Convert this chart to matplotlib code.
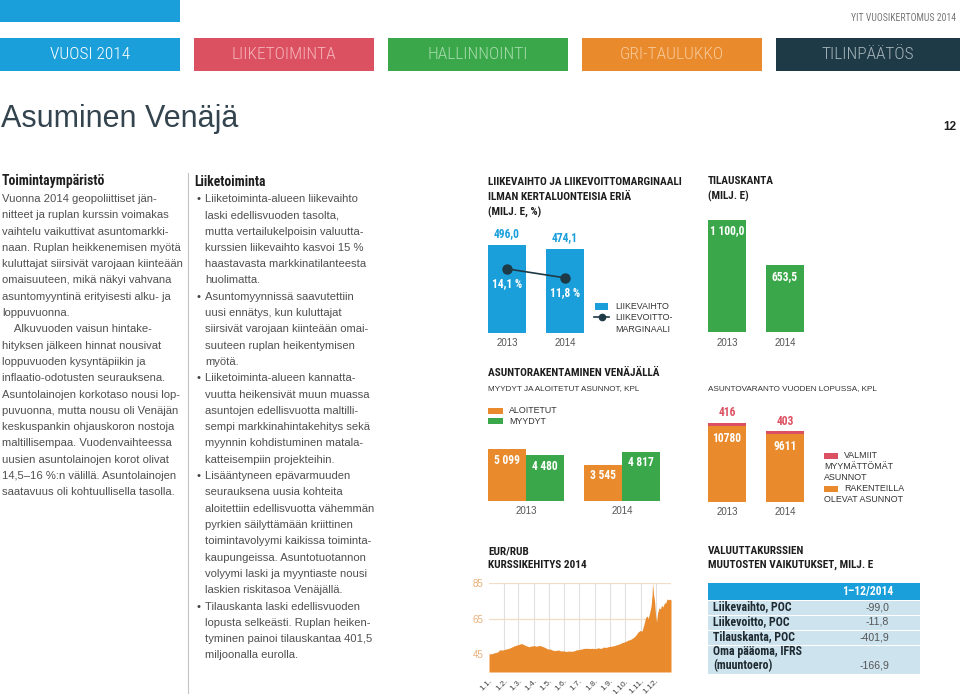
import matplotlib
matplotlib.use("Agg")
import matplotlib.pyplot as plt
from matplotlib.patches import Rectangle
from matplotlib.lines import Line2D
from matplotlib import font_manager as fm

# ---------------- data ----------------
nav_labels = ["VUOSI 2014", "LIIKETOIMINTA", "HALLINNOINTI", "GRI-TAULUKKO", "TILINPÄÄTÖS"]
years = ["2013", "2014"]
revenue = [496.0, 474.1]
revenue_labels = ["496,0", "474,1"]
margin = [14.1, 11.8]
margin_labels = ["14,1 %", "11,8 %"]
backlog = [1100.0, 653.5]
backlog_labels = ["1 100,0", "653,5"]
started = [5099, 3545]
sold = [4480, 4817]
started_labels = ["5 099", "3 545"]
sold_labels = ["4 480", "4 817"]
under_constr = [10780, 9611]
under_constr_labels = ["10780", "9611"]
completed_unsold = [416, 403]
completed_unsold_labels = ["416", "403"]

eurrub_day = [0, 5, 11, 17, 22, 27, 33, 39, 44, 49, 54, 60, 65, 69, 74, 80, 85, 90, 96, 101,
              106, 112, 117, 123, 128, 133, 139, 144, 149, 155, 160, 165, 171, 176, 181, 187,
              192, 198, 203, 208, 214, 219, 224, 230, 235, 240, 246, 251, 256, 262, 267, 273,
              278, 283, 289, 294, 299, 303, 307, 311, 314, 317, 319, 322, 325, 327, 328, 330,
              332, 334, 336, 338, 341, 344, 346, 349, 352, 354, 357, 360, 362, 365]
eurrub_rate = [45.0, 45.2, 45.8, 46.2, 47.5, 47.3, 47.8, 48.2, 48.8, 49.5, 50.0, 50.5, 51.0,
               50.5, 49.8, 49.2, 49.6, 49.8, 49.5, 49.9, 49.5, 48.8, 48.0, 47.8, 47.2, 47.0,
               47.4, 46.8, 46.9, 46.5, 46.8, 46.6, 46.9, 47.5, 47.6, 48.0, 48.3, 48.3, 48.2,
               48.3, 48.1, 48.6, 48.2, 49.0, 48.8, 49.3, 49.5, 49.8, 50.3, 50.8, 51.5, 52.0,
               52.8, 53.2, 54.2, 55.5, 57.5, 58.3, 58.0, 62.0, 65.5, 66.5, 65.0, 68.0, 72.0,
               78.0, 85.0, 78.5, 75.0, 67.0, 63.0, 68.0, 71.0, 70.5, 72.5, 71.5, 74.0, 73.5,
               76.0, 75.5, 76.0, 75.5]
month_days = [0, 31, 59, 90, 120, 151, 181, 212, 243, 273, 304, 334]
month_labels = ["1.1.", "1.2.", "1.3.", "1.4.", "1.5.", "1.6.", "1.7.", "1.8.", "1.9.",
                "1.10.", "1.11.", "1.12."]
rate_ticks = [45, 65, 85]

fx_header = "1–12/2014"
fx_items = ["Liikevaihto, POC", "Liikevoitto, POC", "Tilauskanta, POC", "Oma pääoma, IFRS\n(muuntoero)"]
fx_values = ["-99,0", "-11,8", "-401,9", "-166,9"]

left_title = "Toimintaympäristö"
left_lines = [
    "Vuonna 2014 geopoliittiset jän-",
    "nitteet ja ruplan kurssin voimakas",
    "vaihtelu vaikuttivat asuntomarkki-",
    "naan. Ruplan heikkenemisen myötä",
    "kuluttajat siirsivät varojaan kiinteään",
    "omaisuuteen, mikä näkyi vahvana",
    "asuntomyyntinä erityisesti alku- ja",
    "loppuvuonna.",
    "    Alkuvuoden vaisun hintake-",
    "hityksen jälkeen hinnat nousivat",
    "loppuvuoden kysyntäpiikin ja",
    "inflaatio-odotusten seurauksena.",
    "Asuntolainojen korkotaso nousi lop-",
    "puvuonna, mutta nousu oli Venäjän",
    "keskuspankin ohjauskoron nostoja",
    "maltillisempaa. Vuodenvaihteessa",
    "uusien asuntolainojen korot olivat",
    "14,5–16 %:n välillä. Asuntolainojen",
    "saatavuus oli kohtuullisella tasolla.",
]
mid_title = "Liiketoiminta"
mid_lines = [
    "• Liiketoiminta-alueen liikevaihto",
    "laski edellisvuoden tasolta,",
    "mutta vertailukelpoisin valuutta-",
    "kurssien liikevaihto kasvoi 15 %",
    "haastavasta markkinatilanteesta",
    "huolimatta.",
    "• Asuntomyynnissä saavutettiin",
    "uusi ennätys, kun kuluttajat",
    "siirsivät varojaan kiinteään omai-",
    "suuteen ruplan heikentymisen",
    "myötä.",
    "• Liiketoiminta-alueen kannatta-",
    "vuutta heikensivät muun muassa",
    "asuntojen edellisvuotta maltilli-",
    "sempi markkinahintakehitys sekä",
    "myynnin kohdistuminen matala-",
    "katteisempiin projekteihin.",
    "• Lisääntyneen epävarmuuden",
    "seurauksena uusia kohteita",
    "aloitettiin edellisvuotta vähemmän",
    "pyrkien säilyttämään kriittinen",
    "toimintavolyymi kaikissa toiminta-",
    "kaupungeissa. Asuntotuotannon",
    "volyymi laski ja myyntiaste nousi",
    "laskien riskitasoa Venäjällä.",
    "• Tilauskanta laski edellisvuoden",
    "lopusta selkeästi. Ruplan heiken-",
    "tyminen painoi tilauskantaa 401,5",
    "miljoonalla eurolla.",
]

# ---------------- style ----------------
BLUE = "#1a9fdb"
RED = "#dc5161"
GREEN = "#3aa84a"
ORANGE = "#e98a2c"
DARK = "#1e3a46"
TXT = "#505050"
HEAD = "#1e1e1e"
nav_colors = [BLUE, RED, GREEN, ORANGE, DARK]
nav_text_colors = ["#ffffff", "#f5b5bb", "#a8daad", "#f7c99b", "#a8b6bc"]
SANS = ["Liberation Sans"]

_names = {f.name for f in fm.fontManager.ttflist}
if "Liberation Sans Narrow" in _names:
    NARROW, NF = ["Liberation Sans Narrow"], 1.0
elif "Roboto Condensed" in _names:
    NARROW, NF = ["Roboto Condensed"], 1.0
else:
    NARROW, NF = ["Liberation Sans"], 0.83

W, H = 960, 694
fig = plt.figure(figsize=(9.6, 6.94), dpi=100)
fig.patch.set_facecolor("white")


def fx(x):
    return x / W


def fy(y):
    return 1 - y / H


def txt(x, y, s, size=8, color=TXT, family=SANS, weight="normal", ha="left", va="center", **kw):
    fig.text(fx(x), fy(y), s, fontsize=size, color=color, family=family,
             fontweight=weight, ha=ha, va=va, **kw)


def ntxt(x, y, s, size=8, **kw):
    txt(x, y, s, size=size * NF, family=NARROW, **kw)


def rect(x0, y0, x1, y1, color):
    fig.patches.append(Rectangle((fx(x0), fy(y1)), (x1 - x0) / W, (y1 - y0) / H,
                                 transform=fig.transFigure, facecolor=color,
                                 edgecolor="none", zorder=0))


def add_ax(x0, y0, x1, y1):
    ax = fig.add_axes([fx(x0), fy(y1), (x1 - x0) / W, (y1 - y0) / H])
    ax.patch.set_alpha(0)
    return ax


VAL = dict(fontsize=8.3 * NF, fontweight="bold", family=NARROW, ha="center", va="center",
           textcoords="offset pixels", annotation_clip=False)
YR = dict(fontsize=7, color="#555555", family=SANS, ha="center", va="center",
          textcoords="offset pixels", annotation_clip=False)

# ---------------- header ----------------
rect(0, 0, 180, 22, BLUE)
ntxt(956, 18, "YIT VUOSIKERTOMUS 2014", size=7, color="#777777", ha="right")
nav_x = [(0, 180), (194, 374), (388, 568), (582, 762), (776, 960)]
for (x0, x1), lab, c, tc in zip(nav_x, nav_labels, nav_colors, nav_text_colors):
    rect(x0, 38, x1, 71, c)
    ntxt((x0 + x1) / 2, 54.5, lab, size=12.5, color=tc, ha="center", weight="light")
txt(1, 119, "Asuminen Venäjä", size=22, color="#34444f")
txt(956, 127, "12", size=8.5, color="#222222", weight="bold", ha="right")

# ---------------- text columns ----------------
LS = 16.3
ntxt(2, 181, left_title, size=9.8, color=HEAD, weight="bold")
for i, line in enumerate(left_lines):
    txt(2, 199 + i * LS, line, size=8.1)

fig.add_artist(Line2D([fx(187.5), fx(187.5)], [fy(173), fy(694)], color="#c4c4c4", lw=0.8))

ntxt(194, 182, mid_title, size=9.8, color=HEAD, weight="bold")
for i, line in enumerate(mid_lines):
    y = 199 + i * LS
    if line.startswith("• "):
        txt(196.5, y, "•", size=8, color="#444444")
        line = line[2:]
    txt(205, y, line, size=8.1)

# ---------------- chart 1: revenue & margin ----------------
for j, s in enumerate(["LIIKEVAIHTO JA LIIKEVOITTOMARGINAALI", "ILMAN KERTALUONTEISIA ERIÄ", "(MILJ. E, %)"]):
    ntxt(488, 182 + j * 15, s, size=8.1, color=HEAD, weight="bold")

ax1 = add_ax(488, 200, 584, 333)
w1 = 38 / 58
xs = list(range(len(years)))
ax1.bar(xs, revenue, width=w1, color=BLUE)
ax1.set_xlim(-w1 / 2, 1 + w1 / 2)
ax1.set_ylim(0, revenue[0] * 133 / 88)
ax1.axis("off")
for i, (v, lab) in enumerate(zip(revenue, revenue_labels)):
    ax1.annotate(lab, (i, v), xytext=(0, 11), color=BLUE, **VAL)
    ax1.annotate(years[i], (i, 0), xytext=(0, -10), **YR)
ax1b = ax1.twinx()
ax1b.plot(xs, margin, color=DARK, lw=1.2, marker="o", ms=6.5)
ax1b.set_ylim(-2.3, 31.7)
ax1b.axis("off")
for i, (v, lab) in enumerate(zip(margin, margin_labels)):
    ax1b.annotate(lab, (i, v), xytext=(0, -15), color="white", **VAL)

rect(595, 303, 608, 310, BLUE)
txt(615, 306.5, "LIIKEVAIHTO", size=6.4, color="#333333")
fig.add_artist(Line2D([fx(594), fx(609)], [fy(317), fy(317)], color=DARK, lw=1.2))
fig.add_artist(Line2D([fx(601.5)], [fy(317)], color=DARK, marker="o", ms=4.5))
txt(615, 317, "LIIKEVOITTO-", size=6.4, color="#333333")
txt(615, 329.5, "MARGINAALI", size=6.4, color="#333333")

# ---------------- chart 2: order backlog ----------------
ntxt(708, 181.5, "TILAUSKANTA", size=8.1, color=HEAD, weight="bold")
ntxt(708, 196.5, "(MILJ. E)", size=8.1, color=HEAD, weight="bold")
ax2 = add_ax(708, 200, 804, 332)
ax2.bar(xs, backlog, width=w1, color=GREEN)
ax2.set_xlim(-w1 / 2, 1 + w1 / 2)
ax2.set_ylim(0, backlog[0] * 132 / 112)
ax2.axis("off")
for i, (v, lab) in enumerate(zip(backlog, backlog_labels)):
    ax2.annotate(lab, (i, v), xytext=(0, -11), color="white", **VAL)
    ax2.annotate(years[i], (i, 0), xytext=(0, -11), **YR)

# ---------------- chart 3: housing construction ----------------
ntxt(488, 373, "ASUNTORAKENTAMINEN VENÄJÄLLÄ", size=8.1, color=HEAD, weight="bold")
txt(488, 389, "MYYDYT JA ALOITETUT ASUNNOT, KPL", size=5.9, color="#333333")
rect(488, 407.5, 502.5, 413.5, ORANGE)
txt(509, 410.5, "ALOITETUT", size=6.4, color="#333333")
rect(488, 418, 502.5, 424, GREEN)
txt(509, 421.5, "MYYDYT", size=6.4, color="#333333")

ax3 = add_ax(488, 430, 660, 501)
w3 = 38 / 96
ax3.bar([i - w3 / 2 for i in xs], started, width=w3, color=ORANGE)
ax3.bar([i + w3 / 2 for i in xs], sold, width=w3, color=GREEN)
ax3.set_xlim(-w3, 1 + w3)
ax3.set_ylim(0, started[0] * 71 / 52)
ax3.axis("off")
for i in xs:
    ax3.annotate(started_labels[i], (i - w3 / 2, started[i]), xytext=(0, -11), color="white", **VAL)
    ax3.annotate(sold_labels[i], (i + w3 / 2, sold[i]), xytext=(0, -11), color="white", **VAL)
    ax3.annotate(years[i], (i, 0), xytext=(0, -10.5), **YR)

# ---------------- chart 4: housing stock ----------------
txt(708, 389, "ASUNTOVARANTO VUODEN LOPUSSA, KPL", size=5.9, color="#333333")
ax4 = add_ax(708, 400, 804, 502)
ax4.bar(xs, under_constr, width=w1, color=ORANGE)
ax4.bar(xs, completed_unsold, width=w1, bottom=under_constr, color=RED)
ax4.set_xlim(-w1 / 2, 1 + w1 / 2)
ax4.set_ylim(0, (under_constr[0] + completed_unsold[0]) * 102 / 79.3)
ax4.axis("off")
for i in xs:
    tot = under_constr[i] + completed_unsold[i]
    ax4.annotate(completed_unsold_labels[i], (i, tot), xytext=(0, 10), color=RED, **VAL)
    ax4.annotate(under_constr_labels[i], (i, under_constr[i]), xytext=(0, -13), color="white", **VAL)
    ax4.annotate(years[i], (i, 0), xytext=(0, -10), **YR)

rect(824, 453, 838, 459, RED)
txt(844, 455.5, "VALMIIT", size=6.4, color="#333333")
txt(824, 466.5, "MYYMÄTTÖMÄT", size=6.4, color="#333333")
txt(824, 477.5, "ASUNNOT", size=6.4, color="#333333")
rect(824, 486, 838, 492, ORANGE)
txt(844, 488.5, "RAKENTEILLA", size=6.4, color="#333333")
txt(824, 499.5, "OLEVAT ASUNNOT", size=6.4, color="#333333")

# ---------------- chart 5: EUR/RUB ----------------
ntxt(488, 551.5, "EUR/RUB", size=8.1, color=HEAD, weight="bold")
ntxt(488, 565, "KURSSIKEHITYS 2014", size=8.1, color=HEAD, weight="bold")
ax5 = add_ax(489, 583, 671, 672)
ax5.fill_between(eurrub_day, eurrub_rate, 35, color=ORANGE, lw=0, zorder=2)
ax5.set_xlim(0, 365)
ax5.set_ylim(35, 85)
for d in month_days[1:] + [365]:
    ax5.axvline(d, color="#e0e0e0", lw=0.8, zorder=1)
for r in rate_ticks:
    ax5.axhline(r, color="#f1dcc4", lw=0.9, zorder=1)
for s in ax5.spines.values():
    s.set_visible(False)
ax5.set_yticks(rate_ticks)
ax5.set_yticklabels([str(r) for r in rate_ticks], fontsize=7, color="#e8b07a", family=SANS)
ax5.set_xticks(month_days)
ax5.set_xticklabels(month_labels, fontsize=6, color="#444444", family=SANS, rotation=45,
                    ha="right", rotation_mode="anchor")
ax5.tick_params(length=0, pad=4)

# ---------------- table ----------------
ntxt(708, 551, "VALUUTTAKURSSIEN", size=8.1, color=HEAD, weight="bold")
ntxt(708, 565, "MUUTOSTEN VAIKUTUKSET, MILJ. E", size=8.1, color=HEAD, weight="bold")
rect(708, 583, 920, 599.5, BLUE)
ntxt(868, 591.5, fx_header, size=8.4, color="white", weight="bold", ha="center")
y0 = 600.5
for item, val in zip(fx_items, fx_values):
    nl = item.count("\n") + 1
    h = 14 + (nl - 1) * 14
    rect(708, y0, 920, y0 + h, "#cde4ef")
    parts = item.split("\n")
    for k, p in enumerate(parts):
        ntxt(713, y0 + 6.5 + k * 13.5, p, size=8.6, color="#1f2a30", weight="bold")
    txt(889, y0 + 6.5 + (nl - 1) * 13.5, val, size=7.6, color="#555555", ha="right")
    y0 += h + 1

fig.savefig("out.png", dpi=100, facecolor="white")
